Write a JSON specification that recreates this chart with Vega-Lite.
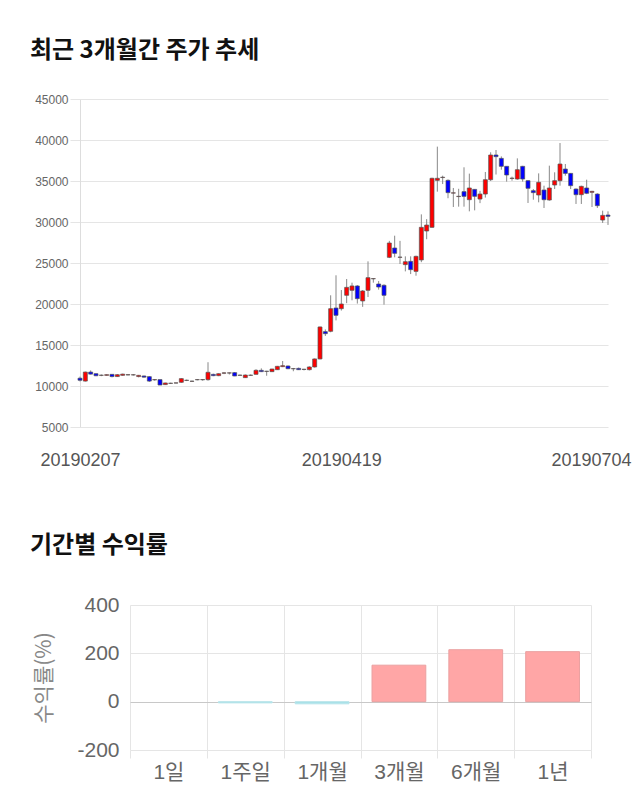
{
  "$schema": "https://vega.github.io/schema/vega-lite/v6.json",
  "background": "white",
  "padding": {"left": 30, "top": 39, "right": 0, "bottom": 0},
  "config": {"font": "Noto Sans CJK KR", "view": {"stroke": null}},
  "spacing": 65,
  "vconcat": [
    {
      "title": {"text": "최근 3개월간 주가 추세", "anchor": "start", "frame": "group", "dx": -50, "fontSize": 24, "fontWeight": "bold", "color": "#111", "offset": 30, "font": "Noto Sans CJK KR"},
      "width": 530,
      "height": 328,
      "data": {"values": [
        {"d":"20190207","o":10950,"h":11150,"l":10550,"c":10700},
        {"d":"20190211","o":10600,"h":11750,"l":10550,"c":11700},
        {"d":"20190212","o":11700,"h":11900,"l":11400,"c":11450},
        {"d":"20190213","o":11500,"h":11550,"l":11200,"c":11250},
        {"d":"20190214","o":11300,"h":11400,"l":11200,"c":11320},
        {"d":"20190215","o":11300,"h":11420,"l":11250,"c":11380},
        {"d":"20190218","o":11420,"h":11450,"l":11050,"c":11150},
        {"d":"20190219","o":11150,"h":11450,"l":11100,"c":11380},
        {"d":"20190220","o":11300,"h":11500,"l":11250,"c":11450},
        {"d":"20190221","o":11350,"h":11450,"l":11300,"c":11380},
        {"d":"20190222","o":11350,"h":11450,"l":11280,"c":11370},
        {"d":"20190225","o":11150,"h":11350,"l":11050,"c":11300},
        {"d":"20190226","o":11220,"h":11280,"l":11000,"c":11080},
        {"d":"20190227","o":11140,"h":11200,"l":10500,"c":10600},
        {"d":"20190228","o":10750,"h":10850,"l":10650,"c":10780},
        {"d":"20190304","o":10780,"h":10800,"l":10100,"c":10120},
        {"d":"20190305","o":10170,"h":10400,"l":10150,"c":10370},
        {"d":"20190306","o":10320,"h":10400,"l":10250,"c":10340},
        {"d":"20190307","o":10360,"h":10420,"l":10300,"c":10380},
        {"d":"20190308","o":10450,"h":10950,"l":10400,"c":10900},
        {"d":"20190311","o":10680,"h":10780,"l":10600,"c":10700},
        {"d":"20190312","o":10570,"h":10650,"l":10500,"c":10590},
        {"d":"20190313","o":10760,"h":10850,"l":10700,"c":10780},
        {"d":"20190314","o":10760,"h":10850,"l":10650,"c":10790},
        {"d":"20190315","o":10770,"h":12900,"l":10650,"c":11670},
        {"d":"20190318","o":11420,"h":11500,"l":11200,"c":11260},
        {"d":"20190319","o":11260,"h":11550,"l":11200,"c":11500},
        {"d":"20190320","o":11560,"h":11700,"l":11450,"c":11600},
        {"d":"20190321","o":11580,"h":11650,"l":11400,"c":11600},
        {"d":"20190322","o":11630,"h":11700,"l":11200,"c":11220},
        {"d":"20190325","o":11300,"h":11400,"l":11250,"c":11320},
        {"d":"20190326","o":11020,"h":11400,"l":11000,"c":11340},
        {"d":"20190327","o":11300,"h":11400,"l":11250,"c":11320},
        {"d":"20190328","o":11420,"h":12050,"l":11400,"c":11910},
        {"d":"20190329","o":11910,"h":12150,"l":11700,"c":11750},
        {"d":"20190401","o":11780,"h":11850,"l":11250,"c":11800},
        {"d":"20190402","o":11750,"h":12100,"l":11700,"c":12070},
        {"d":"20190403","o":11990,"h":12450,"l":11950,"c":12400},
        {"d":"20190404","o":12360,"h":13050,"l":12300,"c":12480},
        {"d":"20190405","o":12440,"h":12500,"l":12050,"c":12110},
        {"d":"20190408","o":12100,"h":12200,"l":11800,"c":12120},
        {"d":"20190409","o":12150,"h":12250,"l":11950,"c":11990},
        {"d":"20190410","o":12020,"h":12100,"l":11900,"c":12040},
        {"d":"20190411","o":11990,"h":12400,"l":11900,"c":12320},
        {"d":"20190412","o":12320,"h":13350,"l":12250,"c":13300},
        {"d":"20190415","o":13300,"h":17250,"l":13250,"c":17200},
        {"d":"20190416","o":16630,"h":16900,"l":16100,"c":16380},
        {"d":"20190417","o":16670,"h":21060,"l":16550,"c":19430},
        {"d":"20190418","o":19510,"h":23500,"l":18000,"c":18620},
        {"d":"20190419","o":19430,"h":21700,"l":19200,"c":20000},
        {"d":"20190422","o":21060,"h":23050,"l":20100,"c":22030},
        {"d":"20190423","o":21670,"h":22600,"l":20450,"c":22200},
        {"d":"20190424","o":22200,"h":22300,"l":20050,"c":20650},
        {"d":"20190425","o":20370,"h":21700,"l":19650,"c":21590},
        {"d":"20190426","o":21670,"h":25200,"l":20850,"c":23210},
        {"d":"20190429","o":23070,"h":23150,"l":22600,"c":23100},
        {"d":"20190430","o":22440,"h":22800,"l":21750,"c":22070},
        {"d":"20190502","o":22280,"h":22400,"l":19920,"c":21060},
        {"d":"20190503","o":25690,"h":27700,"l":25600,"c":27440},
        {"d":"20190507","o":26830,"h":28330,"l":25690,"c":26180},
        {"d":"20190508","o":25690,"h":27700,"l":24880,"c":25720},
        {"d":"20190509","o":24800,"h":25810,"l":23980,"c":25160},
        {"d":"20190510","o":25200,"h":25810,"l":23650,"c":24190},
        {"d":"20190513","o":23980,"h":25900,"l":23450,"c":25810},
        {"d":"20190514","o":25370,"h":30930,"l":25100,"c":29350},
        {"d":"20190515","o":28900,"h":30350,"l":27900,"c":29630},
        {"d":"20190516","o":29350,"h":35400,"l":29300,"c":35330},
        {"d":"20190517","o":35080,"h":39190,"l":33700,"c":35330},
        {"d":"20190520","o":35420,"h":35650,"l":34630,"c":35460},
        {"d":"20190521","o":35080,"h":35200,"l":32900,"c":33580},
        {"d":"20190522","o":33520,"h":34150,"l":31830,"c":33560},
        {"d":"20190523","o":33100,"h":34050,"l":31870,"c":33140},
        {"d":"20190524","o":33700,"h":36670,"l":31870,"c":33130},
        {"d":"20190527","o":32720,"h":35900,"l":31300,"c":34150},
        {"d":"20190528","o":33980,"h":34000,"l":31420,"c":33130},
        {"d":"20190529","o":32800,"h":33800,"l":32300,"c":33410},
        {"d":"20190530","o":33410,"h":36100,"l":32980,"c":35160},
        {"d":"20190531","o":35160,"h":38500,"l":35000,"c":38170},
        {"d":"20190603","o":38170,"h":38780,"l":35790,"c":37970},
        {"d":"20190604","o":37760,"h":38000,"l":36380,"c":36790},
        {"d":"20190605","o":36790,"h":36800,"l":34920,"c":35730},
        {"d":"20190610","o":35310,"h":35530,"l":35040,"c":35350},
        {"d":"20190611","o":35240,"h":37760,"l":35160,"c":36380},
        {"d":"20190612","o":36790,"h":36850,"l":34920,"c":35240},
        {"d":"20190613","o":35040,"h":35100,"l":32320,"c":34110},
        {"d":"20190614","o":33820,"h":34020,"l":32720,"c":33580},
        {"d":"20190617","o":33290,"h":35930,"l":32400,"c":34840},
        {"d":"20190618","o":33900,"h":34430,"l":31710,"c":32720},
        {"d":"20190619","o":32680,"h":36870,"l":32600,"c":34150},
        {"d":"20190620","o":34510,"h":36060,"l":34020,"c":35040},
        {"d":"20190621","o":35040,"h":39630,"l":34430,"c":37070},
        {"d":"20190624","o":36460,"h":37070,"l":35650,"c":35930},
        {"d":"20190625","o":35930,"h":35950,"l":34020,"c":34430},
        {"d":"20190626","o":34020,"h":34100,"l":32200,"c":33330},
        {"d":"20190627","o":33330,"h":34430,"l":32200,"c":34350},
        {"d":"20190628","o":34150,"h":35160,"l":33400,"c":33500},
        {"d":"20190701","o":33620,"h":33800,"l":31830,"c":33740},
        {"d":"20190702","o":33410,"h":33500,"l":31710,"c":31990},
        {"d":"20190703","o":30240,"h":31380,"l":29880,"c":30810},
        {"d":"20190704","o":30850,"h":31300,"l":29640,"c":30690}
      ]},
      "encoding": {
        "x": {
          "field": "d", "type": "ordinal", "sort": null,
          "scale": {"type": "point", "padding": 0, "range": [0, 528]},
          "axis": {
            "title": null, "values": ["20190207", "20190419", "20190704"],
            "domain": false, "ticks": false, "grid": false, "labelAngle": 0,
            "labelFont": "Liberation Sans", "labelFontSize": 18, "labelColor": "#555",
            "labelPadding": 24, "labelFlush": false, "labelOverlap": false, "labelBound": false,
            "labelOffset": {"expr": "datum.value === '20190704' ? -17 : 0"}
          }
        }
      },
      "layer": [
        {
          "mark": {"type": "rule", "color": "#888", "strokeWidth": 1},
          "encoding": {
            "y": {
              "field": "l", "type": "quantitative",
              "scale": {"domain": [5000, 45000], "nice": false, "zero": false},
              "axis": {
                "title": null, "values": [5000, 10000, 15000, 20000, 25000, 30000, 35000, 40000, 45000],
                "format": "d",
                "domain": true, "domainColor": "#dddddd", "ticks": true, "tickSize": 10, "tickColor": "#e5e5e5",
                "gridColor": "#e5e5e5", "labelFont": "Liberation Sans", "labelFontSize": 12, "labelColor": "#666",
                "labelPadding": 2
              }
            },
            "y2": {"field": "h"}
          }
        },
        {
          "mark": {"type": "bar", "width": 4, "stroke": "#555", "strokeWidth": 0.7},
          "encoding": {
            "y": {"field": "o", "type": "quantitative"},
            "y2": {"field": "c"},
            "color": {"condition": {"test": "datum.c >= datum.o", "value": "#ff0000"}, "value": "#0000ff"}
          }
        }
      ]
    },
    {
      "title": {"text": "기간별 수익률", "anchor": "start", "frame": "group", "dx": -50, "fontSize": 24, "fontWeight": "bold", "color": "#111", "offset": 36, "font": "Noto Sans CJK KR"},
      "width": 511,
      "height": 145,
      "data": {"values": [
        {"p": "1일", "v": 0},
        {"p": "1주일", "v": -5},
        {"p": "1개월", "v": -9},
        {"p": "3개월", "v": 151},
        {"p": "6개월", "v": 215},
        {"p": "1년", "v": 207}
      ]},
      "mark": {"type": "bar", "width": {"band": 0.7}, "strokeWidth": 1},
      "encoding": {
        "x": {
          "field": "p", "type": "nominal", "sort": null,
          "scale": {"paddingInner": 0, "paddingOuter": 0, "range": [50, 511]},
          "axis": {
            "title": null, "labelAngle": 0, "tickBand": "extent", "grid": true, "gridColor": "#e5e5e5",
            "domain": false, "ticks": true, "tickSize": 8, "tickColor": "#e5e5e5",
            "labelFont": "Liberation Sans, Noto Sans CJK KR", "labelFontSize": 21, "labelColor": "#666", "labelPadding": 3
          }
        },
        "y": {
          "field": "v", "type": "quantitative",
          "scale": {"domain": [-200, 400], "nice": false},
          "axis": {
            "title": "수익률(%)", "titleFontSize": 21, "titleColor": "#888", "titleFontWeight": "normal", "titlePadding": 22,
            "titleFont": "Noto Sans CJK KR", "offset": -50,
            "values": [-200, 0, 200, 400], "labelExpr": "datum.value + ''", "domain": false, "ticks": false, "labelPadding": 11,
            "labelFont": "Liberation Sans", "labelFontSize": 21, "labelColor": "#666",
            "gridColor": {"condition": {"test": "datum.value === 0", "value": "#c8c8c8"}, "value": "#e5e5e5"}
          }
        },
        "color": {"condition": {"test": "datum.v >= 0", "value": "#ffa6a6"}, "value": "#a6e0e8"},
        "stroke": {"condition": [{"test": "datum.v == 0", "value": "transparent"}, {"test": "datum.v > 0", "value": "#eaa0a0"}], "value": "#b8e4ea"}
      }
    }
  ]
}
